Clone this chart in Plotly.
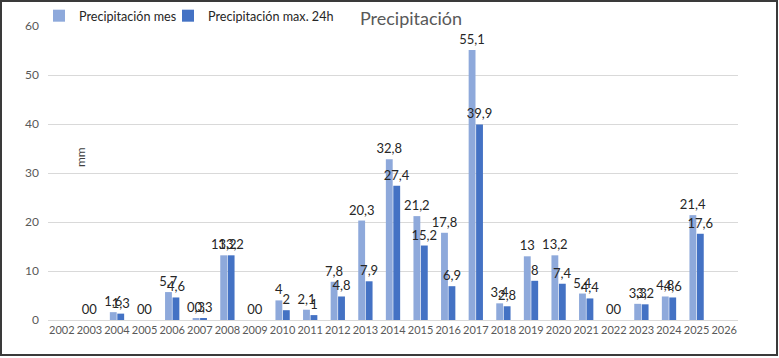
import plotly.graph_objects as go

years = [str(y) for y in range(2002, 2027)]
precip_mes = [None, 0, 1.6, 0, 5.7, 0.3, 13.2, 0, 4, 2.1, 7.8, 20.3, 32.8, 21.2, 17.8,
              55.1, 3.4, 13, 13.2, 5.4, 0, 3.3, 4.8, 21.4, None]
precip_max24 = [None, 0, 1.3, 0, 4.6, 0.3, 13.2, 0, 2, 1, 4.8, 7.9, 27.4, 15.2, 6.9,
                39.9, 2.8, 8, 7.4, 4.4, 0, 3.2, 4.6, 17.6, None]
y_ticks = [0, 10, 20, 30, 40, 50, 60]


def fmt(v):
    return "" if v is None else f"{v:g}".replace(".", ",")


W, H = 779, 358
L, R, T, B = 48, 41, 26, 38
pw, ph = W - L - R, H - T - B

font_main = "Lato, 'Open Sans', sans-serif"

fig = go.Figure()
for name, vals, col, lg in [("Precipitación mes", precip_mes, "#8EA9DB", "legend"),
                            ("Precipitación max. 24h", precip_max24, "#4472C4", "legend2")]:
    fig.add_trace(go.Bar(
        x=years, y=vals, name=name, legend=lg,
        marker=dict(color=col, line=dict(width=0)),
        text=[fmt(v) for v in vals], textposition="outside",
        constraintext="none",
        textfont=dict(size=13, color="#262626", family=font_main),
        cliponaxis=False,
    ))

leg_common = dict(orientation="h", xanchor="left", yanchor="middle",
                  y=1 + (T - 16) / ph,
                  font=dict(size=12.6, color="#262626", family=font_main),
                  bgcolor="rgba(0,0,0,0)", itemwidth=30)

fig.update_layout(
    width=W, height=H,
    margin=dict(l=L, r=R, t=T, b=B, autoexpand=False),
    paper_bgcolor="white", plot_bgcolor="white",
    barmode="group", bargap=0.46, bargroupgap=0.08,
    font=dict(family=font_main, color="#595959"),
    title=dict(text="Precipitación", x=411 / W, xanchor="center",
               y=1 - 19 / H, yanchor="middle",
               font=dict(size=18, color="#595959", family=font_main)),
    legend=dict(x=(39 - L) / pw, **leg_common),
    legend2=dict(x=(168 - L) / pw, **leg_common),
    xaxis=dict(type="category", showgrid=False, showline=True, linecolor="#D9D9D9",
               linewidth=1, ticks="", tickangle=0,
               tickfont=dict(size=11, color="#595959"), fixedrange=True),
    yaxis=dict(range=[0, 60], tickvals=y_ticks, showgrid=True, gridcolor="#D9D9D9",
               gridwidth=1, zeroline=False, showline=False, ticks="",
               tickfont=dict(size=12, color="#595959"), ticklabelstandoff=8),
    showlegend=True,
)

fig.add_annotation(text="mm", xref="paper", yref="paper",
                   x=(81 - L) / pw, y=1 - (157 - T) / ph, textangle=-90,
                   xanchor="center", yanchor="middle",
                   showarrow=False, font=dict(size=12, color="#404040", family=font_main))

# outer frame
fig.add_shape(type="rect", xref="paper", yref="paper",
              x0=(1 - L) / pw, x1=(777 - L) / pw,
              y0=1 - (355 - T) / ph, y1=1 - (1 - T) / ph,
              line=dict(color="#3A3A3A", width=2), fillcolor="rgba(0,0,0,0)", layer="above")

fig.write_html("out.html", config={"displayModeBar": False},
               post_script="document.body.style.margin='0';")
